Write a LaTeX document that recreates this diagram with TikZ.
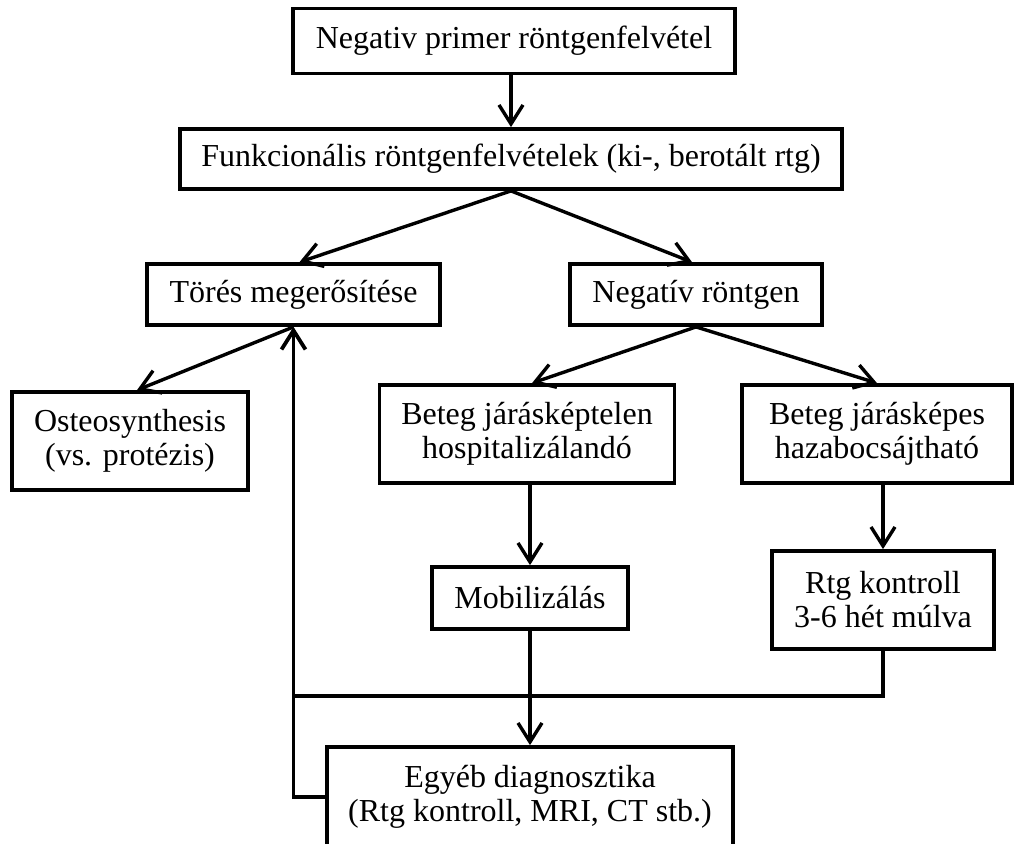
\documentclass[tikz,border=0pt]{standalone}
\usepackage{fontspec}
\setmainfont{Liberation Serif}
\usetikzlibrary{arrows.meta, positioning}
\tikzset{
    base/.style={draw, line width=1.9pt, align=center, inner sep=0pt, font=\fontsize{16}{17}\selectfont, fill=white},
    box/.style={base, rectangle, minimum height=30.5pt},
    tallbox/.style={base, rectangle, minimum height=49pt},
    arrow/.style={-{Straight Barb[length=9.5pt, width=12pt]}, line width=1.7pt, draw=black},
    line/.style={line width=1.9pt, draw=black}
}

\begin{document}
\begin{tikzpicture}[x=0.5pt, y=-0.5pt]
    \useasboundingbox (0,0) rectangle (1017,843);

    \node (prim) [box, minimum width=221pt, minimum height=32.5pt] at (514,41) {Negativ primer röntgenfelvétel};
    \node (funk) [box, minimum width=331pt, minimum height=30pt] at (511,159) {Funkcionális röntgenfelvételek (ki-, berotált rtg)};
    \node (tores) [box, minimum width=146.5pt] at (293.5,294.5) {Törés megerősítése};
    \node (negrtg) [box, minimum width=126pt] at (696,294.5) {Negatív röntgen};
    \node (osteo) [tallbox, minimum width=118pt] at (130,441) {Osteosynthesis \\ (vs. protézis)};
    \node (keptelen) [tallbox, minimum width=147.5pt] at (527,434) {Beteg járásképtelen \\ hospitalizálandó};
    \node (kepes) [tallbox, minimum width=135pt] at (877,434) {Beteg járásképes \\ hazabocsájtható};
    \node (mobil) [box, minimum width=98pt, minimum height=31pt] at (530,598) {Mobilizálás};
    \node (rtgk) [tallbox, minimum width=111pt] at (883,600) {Rtg kontroll \\ 3-6 hét múlva};
    \node (egyeb) [base, rectangle, minimum width=203pt, minimum height=50pt] at (530,797) {Egyéb diagnosztika \\ (Rtg kontroll, MRI, CT stb.)};

    \coordinate (merge) at (tores.south |- 0,696);

    \draw [arrow] (prim.south -| funk.south) -- (funk.north);
    \draw [arrow] (funk.south) -- ([xshift=3pt]tores.north);
    \draw [arrow] (funk.south) -- ([xshift=-2pt]negrtg.north);
    \draw [arrow] (tores.south) -- ([xshift=3.5pt]osteo.north);
    \draw [arrow] (negrtg.south) -- ([xshift=2.5pt]keptelen.north);
    \draw [arrow] (negrtg.south) -- (kepes.north);
    \draw [arrow] (keptelen.south -| mobil.north) -- (mobil.north);
    \draw [arrow] (kepes.south -| rtgk.north) -- (rtgk.north);
    \draw [arrow] (mobil.south) -- (egyeb.north);
    \draw [line] (rtgk.south) |- (merge);
    \draw [arrow, line width=1.9pt] (egyeb.west) -| (tores.south);
\end{tikzpicture}
\end{document}
